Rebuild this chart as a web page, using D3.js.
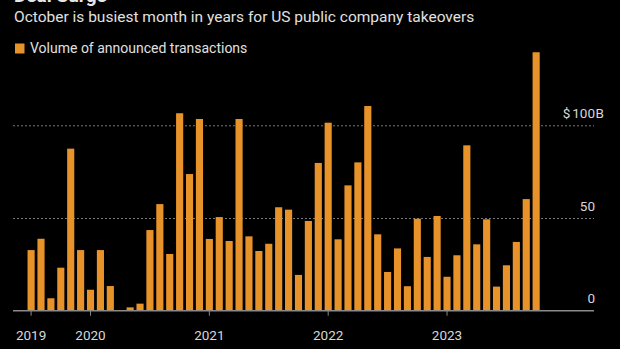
<!DOCTYPE html>
<html>
<head>
<meta charset="utf-8">
<script src="https://cdn.jsdelivr.net/npm/d3@7"></script>
<style>
  html, body { margin: 0; padding: 0; background: #000; }
  svg { display: block; font-family: Roboto, "Noto Sans", sans-serif; }
</style>
</head>
<body>
<svg id="chart"></svg>
<script>
// Monthly volume of announced US public company takeovers, $B (Jul 2019 - Oct 2023)
const months = d3.timeMonths(new Date(2019, 6, 1), new Date(2023, 10, 1));
const volumes = [
  32.7, 38.8, 6.7, 23.2, 87.4, 32.7,
  11.3, 32.7, 13.3, 0, 1.8, 3.8, 43.5, 57.5, 30.6, 106.5, 73.7, 103.4,
  38.7, 50.5, 37.6, 103.4, 40.1, 32.2, 36.1, 55.8, 54.5, 19.3, 48.4, 79.7,
  101.4, 38.5, 67.6, 80.0, 110.4, 41.2, 20.9, 33.6, 13.2, 49.6, 29.0, 51.1,
  18.3, 29.9, 89.2, 35.8, 49.3, 13.0, 24.5, 37.1, 60.2, 139.4
];
const yTicks = [0, 50, 100];

const data = months.map((m, i) => ({ month: m, value: volumes[i] }));

const svgWidth = 620;
const svgHeight = 349;
const plot = { left: 13, right: 594, top: 40, bottom: 310.7 };
const labelRight = 595;

const svg = d3.select('#chart')
  .attr('width', svgWidth)
  .attr('height', svgHeight);

svg.append('rect')
  .attr('width', svgWidth)
  .attr('height', svgHeight)
  .attr('fill', '#000');

// Headline (runs off the top edge), subtitle and legend
svg.append('text')
  .attr('x', 14)
  .attr('y', 2)
  .attr('fill', '#e6e6e6')
  .attr('font-size', 19)
  .attr('font-weight', 700)
  .text('Deal Surge');

svg.append('text')
  .attr('x', 14)
  .attr('y', 22)
  .attr('fill', '#e0e0e0')
  .attr('font-size', 15.5)
  .text('October is busiest month in years for US public company takeovers');

svg.append('rect')
  .attr('x', 15)
  .attr('y', 43.5)
  .attr('width', 9.5)
  .attr('height', 10)
  .attr('fill', '#e8922a');

svg.append('text')
  .attr('x', 30)
  .attr('y', 53)
  .attr('fill', '#e0e0e0')
  .attr('font-size', 14)
  .text('Volume of announced transactions');

// Scales
const xScale = d3.scaleBand()
  .domain(data.map((d) => d.month))
  .range([26.15, 541.1])
  .paddingInner(0.28)
  .paddingOuter(0.14);

const yScale = d3.scaleLinear()
  .domain([0, 100])
  .range([plot.bottom, 125.3]);

// Gridlines and right-hand value labels
const grid = svg.append('g');
grid.selectAll('line')
  .data(yTicks.filter((t) => t > 0))
  .enter()
  .append('line')
  .attr('x1', plot.left)
  .attr('x2', plot.right)
  .attr('y1', (d) => yScale(d) + 0.5)
  .attr('y2', (d) => yScale(d) + 0.5)
  .attr('stroke', '#777')
  .attr('stroke-width', 1)
  .attr('stroke-dasharray', '2,2');

const labels = grid.selectAll('g.ylabel')
  .data(yTicks)
  .enter()
  .append('g')
  .attr('class', 'ylabel')
  .attr('transform', (d) => `translate(${labelRight},${yScale(d) - 7.5})`)
  .attr('fill', '#d8d8d8')
  .attr('font-size', 13.5);

// numbers line up on the right; the top label gets its "$" and "B" outside
labels.append('text')
  .attr('text-anchor', 'end')
  .text((d) => d);

const topLabel = labels.filter((d) => d === d3.max(yTicks));
topLabel.append('text')
  .attr('x', 0.5)
  .text('B');
topLabel.append('text')
  .attr('text-anchor', 'end')
  .attr('x', function () {
    return -this.parentNode.firstChild.getComputedTextLength() - 2;
  })
  .text('$');

// Bars
svg.selectAll('.bar')
  .data(data)
  .enter()
  .append('rect')
  .attr('class', 'bar')
  .attr('x', (d) => xScale(d.month))
  .attr('y', (d) => yScale(d.value))
  .attr('width', xScale.bandwidth())
  .attr('height', (d) => plot.bottom - yScale(d.value))
  .attr('fill', '#e8922a');

// Baseline with year ticks
const tickMonths = data
  .filter((d, i) => i === 0 || d.month.getMonth() === 0)
  .map((d) => d.month);

const xAxis = svg.append('g')
  .attr('transform', `translate(0,${plot.bottom})`);

xAxis.append('line')
  .attr('x1', plot.left)
  .attr('x2', plot.right)
  .attr('stroke', '#8a8a8a')
  .attr('stroke-width', 1.5);

const ticks = xAxis.selectAll('.tick')
  .data(tickMonths)
  .enter()
  .append('g')
  .attr('class', 'tick')
  .attr('transform', (d) => `translate(${xScale(d) + xScale.bandwidth() / 2},0)`);

ticks.append('line')
  .attr('y1', 0)
  .attr('y2', 5)
  .attr('stroke', '#8a8a8a')
  .attr('stroke-width', 1);

ticks.append('text')
  .attr('y', 29)
  .attr('text-anchor', 'middle')
  .attr('fill', '#d8d8d8')
  .attr('font-size', 13.5)
  .text(d3.timeFormat('%Y'));
</script>
</body>
</html>
